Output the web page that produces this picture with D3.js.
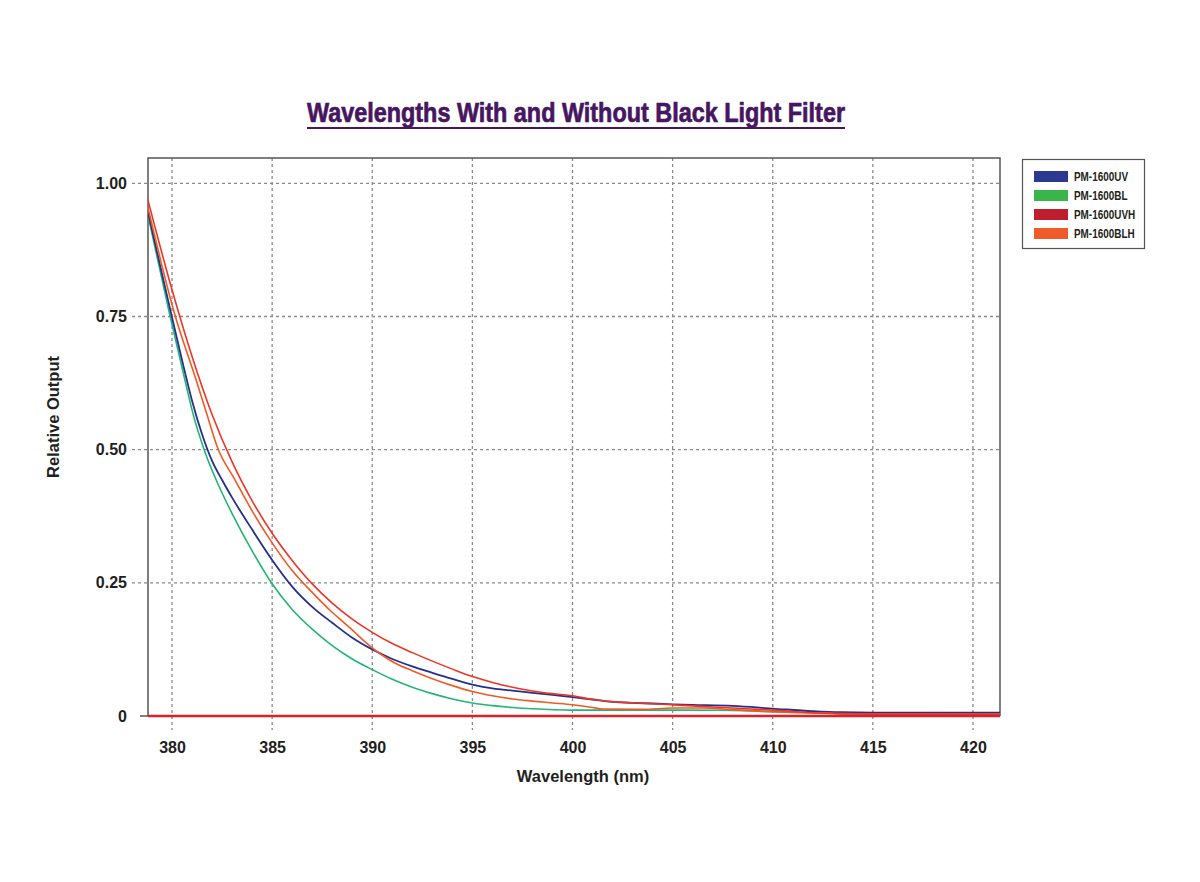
<!DOCTYPE html>
<html>
<head>
<meta charset="utf-8">
<script src="https://cdn.jsdelivr.net/npm/d3@7"></script>
<style>
  html, body { margin: 0; padding: 0; background: #fff; }
  svg { display: block; }
</style>
</head>
<body>
<svg id="chart" width="1200" height="882"></svg>
<script>
// ---------- data ----------
const title = "Wavelengths With and Without Black Light Filter";
const xLabel = "Wavelength (nm)";
const yLabel = "Relative Output";
const xTicks = [380, 385, 390, 395, 400, 405, 410, 415, 420];
const yTicks = [0, 0.25, 0.5, 0.75, 1.0];
const yTickLabels = ["0", "0.25", "0.50", "0.75", "1.00"];
const legendNames = ["PM-1600UV", "PM-1600BL", "PM-1600UVH", "PM-1600BLH"];
const legendColors = ["#2b3990", "#39b54a", "#be1e2d", "#f15a29"];

// wavelength (nm), relative output
const seriesUV = [
  [378.8, 0.946], [379.5, 0.83], [380, 0.748], [380.5, 0.668], [381, 0.592], [381.5, 0.529],
  [382, 0.479], [382.5, 0.443], [383, 0.41], [384, 0.35], [385, 0.293], [386, 0.243],
  [387, 0.205], [388, 0.175], [389, 0.147], [390, 0.125], [391, 0.107],
  [392, 0.093], [393, 0.081], [394, 0.0695], [395, 0.059], [396, 0.052], [397, 0.0475],
  [398, 0.0435], [399, 0.0395], [400, 0.0355], [401, 0.031], [402, 0.0265], [403, 0.0245],
  [404, 0.0235], [405, 0.022], [406, 0.021], [408, 0.019], [410, 0.014], [412, 0.009],
  [413.4, 0.007], [415, 0.0065], [421.35, 0.0065]
];
const seriesBL = [
  [378.8, 0.94], [379.87, 0.756], [380.63, 0.633], [381.03, 0.57], [381.63, 0.497],
  [382.3, 0.435], [383, 0.38], [384, 0.31], [384.93, 0.252], [386, 0.2], [387, 0.163],
  [387.9, 0.135], [389, 0.107], [390, 0.087], [391, 0.069], [392, 0.054], [393, 0.042],
  [394, 0.032], [395, 0.0245], [396, 0.0195], [397, 0.016], [398, 0.0135], [400, 0.011],
  [405, 0.011], [408, 0.0105], [410, 0.008], [415, 0.004], [421.35, 0.003]
];
const seriesUVH = [
  [378.8, 0], [390, 0], [400, 0], [410, 0], [421.35, 0]
];
const seriesBLH = [
  [378.8, 0.954], [380.12, 0.756], [381.2, 0.631], [381.73, 0.568], [382.26, 0.505],
  [383.15, 0.443], [384, 0.385], [385, 0.325], [386, 0.273], [387, 0.232], [387.9, 0.198],
  [388.5, 0.178], [389.1, 0.158], [389.5, 0.144], [390, 0.128], [390.5, 0.114],
  [391.1, 0.100], [392, 0.085], [393, 0.070], [394, 0.057], [395, 0.046], [396, 0.038],
  [397, 0.032], [398, 0.028], [399, 0.0245], [400, 0.021], [401, 0.016], [401.5, 0.013],
  [403.5, 0.0125], [405, 0.015], [406.5, 0.015], [408, 0.012], [410, 0.008],
  [415, 0.004], [421.35, 0.003]
];
// additional red curve drawn in the picture (not listed in the legend)
const seriesRed = [
  [378.8, 0.968], [380, 0.80], [381, 0.675], [382, 0.566], [383, 0.477], [384, 0.404],
  [385, 0.343], [386, 0.292], [387, 0.248], [388, 0.212], [389, 0.182], [390, 0.157],
  [391, 0.136], [392, 0.119], [393, 0.103], [394, 0.088], [395, 0.074], [396, 0.063],
  [397, 0.054], [398, 0.047], [399, 0.042], [400, 0.038], [401, 0.031], [402, 0.027],
  [403, 0.025], [404, 0.023], [405, 0.021], [406, 0.019], [407, 0.017], [408, 0.015],
  [410, 0.011], [412, 0.006], [413.4, 0.004], [415, 0.0035], [421.35, 0.003]
];

// ---------- drawing ----------
const svg = d3.select("#chart");
const L = 148, R = 1000, T = 158, B = 716;

const x = d3.scaleLinear().domain([378.8, 421.35]).range([L, R]);
const y = d3.scaleLinear().domain([0, 1.0]).range([B, 183.3]);

// title
svg.append("text")
  .attr("x", 307).attr("y", 122)
  .attr("textLength", 538).attr("lengthAdjust", "spacingAndGlyphs")
  .attr("font-family", "'Liberation Sans Narrow', 'Liberation Sans', Arial, sans-serif")
  .attr("font-weight", "bold").attr("font-size", 27)
  .attr("fill", "#461660").attr("stroke", "#461660").attr("stroke-width", 0.7)
  .text(title);
svg.append("line")
  .attr("x1", 307).attr("x2", 845).attr("y1", 128).attr("y2", 128)
  .attr("stroke", "#461660").attr("stroke-width", 2);

// grid
const grid = svg.append("g");
grid.selectAll(".vg").data(xTicks).join("line")
  .attr("x1", d => x(d)).attr("x2", d => x(d))
  .attr("y1", T).attr("y2", B + 14)
  .attr("stroke", "#8a8a8a").attr("stroke-width", 1.3).attr("stroke-dasharray", "3,3");
grid.selectAll(".hg").data(yTicks.filter(d => d > 0)).join("line")
  .attr("x1", L - 16).attr("x2", R)
  .attr("y1", d => y(d)).attr("y2", d => y(d))
  .attr("stroke", "#8a8a8a").attr("stroke-width", 1.3).attr("stroke-dasharray", "3,3");

// frame
svg.append("path")
  .attr("d", `M${L},${B} L${L},${T} L${R},${T} L${R},${B}`)
  .attr("fill", "none").attr("stroke", "#555").attr("stroke-width", 1.5);
svg.append("line")
  .attr("x1", L - 8).attr("x2", L).attr("y1", B).attr("y2", B)
  .attr("stroke", "#555").attr("stroke-width", 1.5);

// axes labels via d3 axes (no lines)
const xAxis = svg.append("g").attr("transform", `translate(0,${B})`)
  .call(d3.axisBottom(x).tickValues(xTicks).tickSize(0).tickPadding(26).tickFormat(d3.format("d")));
const yAxis = svg.append("g").attr("transform", `translate(${L},0)`)
  .call(d3.axisLeft(y).tickValues(yTicks).tickSize(0).tickPadding(21)
    .tickFormat((d, i) => yTickLabels[i]));
[xAxis, yAxis].forEach(a => {
  a.select(".domain").remove();
  a.selectAll("text")
    .attr("font-family", "'Liberation Sans', Arial, Helvetica, sans-serif")
    .attr("font-weight", "bold").attr("font-size", 16).attr("fill", "#231f20");
});

svg.append("text")
  .attr("x", 583).attr("y", 782).attr("text-anchor", "middle")
  .attr("font-family", "'Liberation Sans', Arial, Helvetica, sans-serif")
  .attr("font-weight", "bold").attr("font-size", 16.5).attr("fill", "#231f20")
  .text(xLabel);
svg.append("text")
  .attr("transform", "translate(59,417) rotate(-90)").attr("text-anchor", "middle")
  .attr("font-family", "'Liberation Sans', Arial, Helvetica, sans-serif")
  .attr("font-weight", "bold").attr("font-size", 16.5).attr("fill", "#231f20")
  .text(yLabel);

// lines
const line = d3.line().x(d => x(d[0])).y(d => y(d[1])).curve(d3.curveMonotoneX);
const plotted = [
  { data: seriesBL, color: "#22b573", w: 1.6 },
  { data: seriesUV, color: "#262f8c", w: 1.8 },
  { data: seriesBLH, color: "#f15a24", w: 1.6 },
  { data: seriesRed, color: "#ee3524", w: 1.6 },
  { data: seriesUVH, color: "#dc2229", w: 2.6 }
];
svg.append("clipPath").attr("id", "clip")
  .append("rect").attr("x", L).attr("y", T).attr("width", R - L).attr("height", B - T + 3);
const lg = svg.append("g").attr("clip-path", "url(#clip)");
lg.selectAll("path").data(plotted).join("path")
  .attr("d", d => line(d.data))
  .attr("fill", "none")
  .attr("stroke", d => d.color)
  .attr("stroke-width", d => d.w);

// legend
const leg = svg.append("g");
leg.append("rect").attr("x", 1022.5).attr("y", 159.5).attr("width", 122).attr("height", 89)
  .attr("fill", "#fff").attr("stroke", "#555").attr("stroke-width", 1.2);
const rows = leg.selectAll(".row").data(legendNames).join("g")
  .attr("transform", (d, i) => `translate(0,${171 + i * 19})`);
rows.append("rect").attr("x", 1034).attr("y", 0).attr("width", 34).attr("height", 11)
  .attr("fill", (d, i) => legendColors[i]);
const legTexts = rows.append("text").attr("x", 1074).attr("y", 10)
  .attr("font-family", "'Liberation Sans', Arial, sans-serif")
  .attr("font-weight", "bold").attr("font-size", 12).attr("fill", "#231f20")
  .text(d => d);
const firstLen = legTexts.node().getComputedTextLength();
const squeeze = 54 / firstLen;
legTexts.each(function () {
  const len = this.getComputedTextLength();
  d3.select(this).attr("textLength", len * squeeze).attr("lengthAdjust", "spacingAndGlyphs");
});
</script>
</body>
</html>
